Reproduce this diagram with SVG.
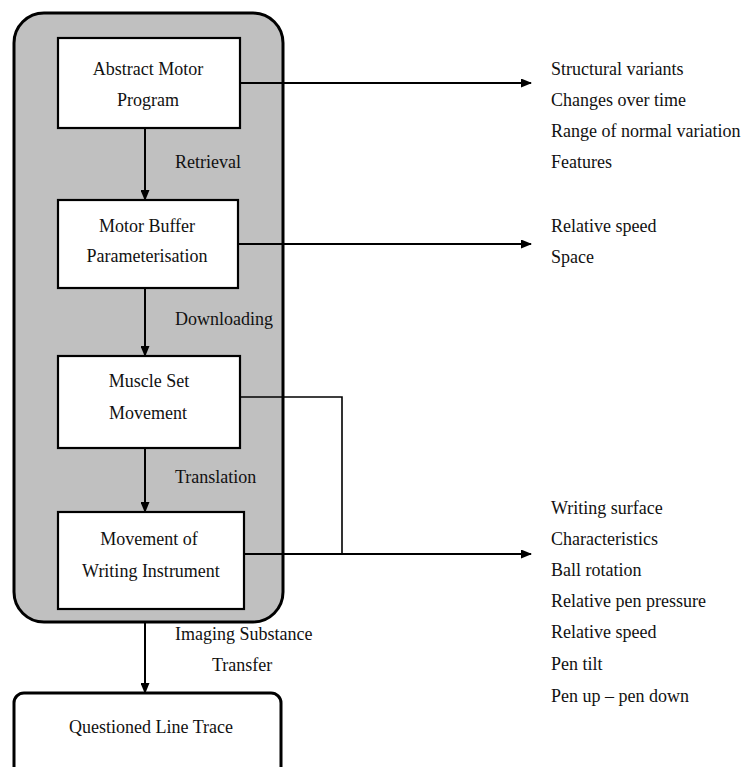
<svg xmlns="http://www.w3.org/2000/svg" width="745" height="767" viewBox="0 0 745 767" font-family="'Liberation Serif', 'DejaVu Serif', serif" font-size="18">
  <style>
    text { font-family: "Liberation Serif", "Tinos", "Times New Roman", "DejaVu Serif", serif; font-size: 18px; fill: #111; }
    .mid { text-anchor: middle; }
    .box { fill: #fff; stroke: #000; stroke-width: 2.2; }
    .wire { fill: none; stroke: #000; stroke-width: 2; }
    .thin { fill: none; stroke: #000; stroke-width: 1.6; }
  </style>
  <defs>
    <marker id="arrow" markerUnits="userSpaceOnUse" markerWidth="11" markerHeight="9" refX="10" refY="4.5" orient="auto">
      <path d="M0,0 L11,4.5 L0,9 z" fill="#000"/>
    </marker>
  </defs>
  <rect width="745" height="767" fill="#fff"/>

  <!-- container for the motor stages -->
  <g id="motor-system">
    <rect x="14" y="13" width="269" height="609" rx="30" ry="30" fill="#c0c0c0" stroke="#000" stroke-width="3"/>
  </g>

  <!-- connectors -->
  <g id="connectors">
    <line class="wire" x1="145" y1="128" x2="145" y2="200" marker-end="url(#arrow)"/>
    <line class="wire" x1="145" y1="288" x2="145" y2="356" marker-end="url(#arrow)"/>
    <line class="wire" x1="145" y1="448" x2="145" y2="512" marker-end="url(#arrow)"/>
    <line class="wire" x1="145" y1="622" x2="145" y2="693" marker-end="url(#arrow)"/>
    <line class="wire" x1="240" y1="83" x2="531" y2="83" marker-end="url(#arrow)"/>
    <line class="wire" x1="238" y1="244" x2="531" y2="244" marker-end="url(#arrow)"/>
    <polyline class="thin" points="240,397 342,397 342,554"/>
    <line class="wire" x1="244" y1="554" x2="531" y2="554" marker-end="url(#arrow)"/>
  </g>

  <g id="abstract-motor-program">
    <rect class="box" x="58" y="38" width="182" height="90"/>
    <text class="mid" x="148" y="75">Abstract Motor</text>
    <text class="mid" x="148" y="106">Program</text>
  </g>

  <g id="motor-buffer">
    <rect class="box" x="58" y="200" width="180" height="88"/>
    <text class="mid" x="147" y="232">Motor Buffer</text>
    <text class="mid" x="147" y="262">Parameterisation</text>
  </g>

  <g id="muscle-set">
    <rect class="box" x="58" y="356" width="182" height="92"/>
    <text class="mid" x="149" y="387">Muscle Set</text>
    <text class="mid" x="148" y="419">Movement</text>
  </g>

  <g id="writing-instrument">
    <rect class="box" x="58" y="512" width="186" height="97"/>
    <text class="mid" x="149" y="545">Movement of</text>
    <text class="mid" x="151" y="577">Writing Instrument</text>
  </g>

  <g id="questioned-line-trace">
    <rect x="14" y="693" width="267" height="90" rx="10" ry="10" fill="#fff" stroke="#000" stroke-width="3"/>
    <text class="mid" x="151" y="733">Questioned Line Trace</text>
  </g>

  <!-- process labels -->
  <g id="process-labels">
    <text x="175" y="168">Retrieval</text>
    <text x="175" y="325">Downloading</text>
    <text x="175" y="483">Translation</text>
    <text x="175" y="640">Imaging Substance</text>
    <text x="212" y="671">Transfer</text>
  </g>

  <!-- attribute lists -->
  <g id="program-attributes">
    <text x="551" y="75">Structural variants</text>
    <text x="551" y="106">Changes over time</text>
    <text x="551" y="137">Range of normal variation</text>
    <text x="551" y="168">Features</text>
  </g>
  <g id="buffer-attributes">
    <text x="551" y="232">Relative speed</text>
    <text x="551" y="263">Space</text>
  </g>
  <g id="movement-attributes">
    <text x="551" y="514">Writing surface</text>
    <text x="551" y="545">Characteristics</text>
    <text x="551" y="576">Ball rotation</text>
    <text x="551" y="607">Relative pen pressure</text>
    <text x="551" y="638">Relative speed</text>
    <text x="551" y="670">Pen tilt</text>
    <text x="551" y="702">Pen up – pen down</text>
  </g>
</svg>
